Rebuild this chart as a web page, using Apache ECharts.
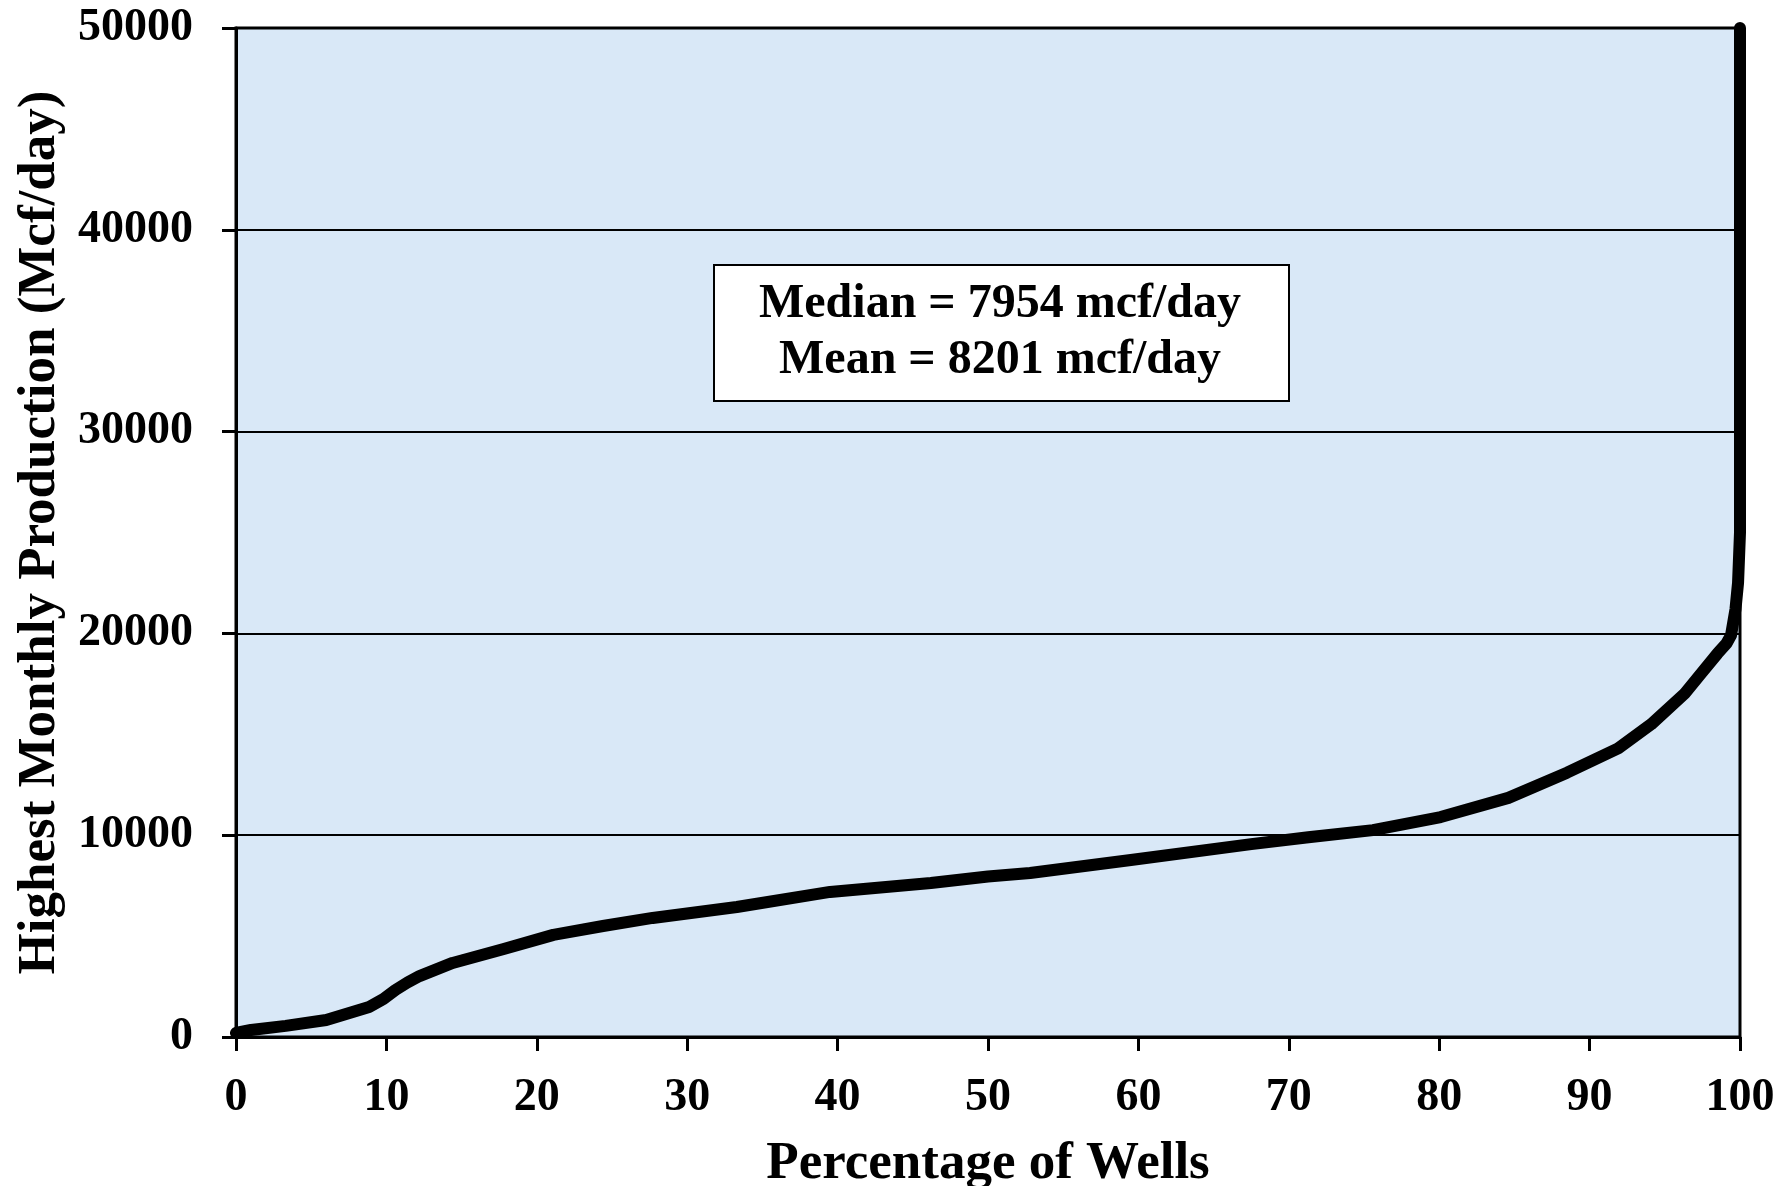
<!DOCTYPE html>
<html>
<head>
<meta charset="utf-8">
<title>Highest Monthly Production by Percentage of Wells</title>
<script src="https://cdn.jsdelivr.net/npm/echarts@6/dist/echarts.min.js"></script>
<style>
  html, body { margin: 0; padding: 0; background: #ffffff; }
  #chart { width: 1785px; height: 1186px; }
</style>
</head>
<body>
<div id="chart"></div>
<script>
// Cumulative distribution of peak monthly gas production across wells
const wellPercent = [0, 1, 3.3, 6, 8.85, 9.8, 10.6, 11.4, 12.2, 14.4, 17.8, 21.1, 24.4, 27.7, 33.3,
  39.5, 46.2, 50, 52.8, 59.5, 67.5, 71.3, 75.6, 80.1, 84.6, 88.5, 91.9, 94.1, 96.3,
  97.4, 98.5, 99.1, 99.4, 99.7, 99.87, 100, 100];
const peakProduction = [200, 350, 550, 840, 1490, 1880, 2330, 2700, 3020, 3670, 4360, 5060, 5500, 5900, 6440,
  7190, 7630, 7954, 8130, 8770, 9560, 9900, 10250, 10900, 11850, 13100, 14300, 15500, 17000,
  18000, 19000, 19500, 19900, 21200, 22500, 25000, 50000];

const xTicks = [0, 10, 20, 30, 40, 50, 60, 70, 80, 90, 100];
const yTicks = [0, 10000, 20000, 30000, 40000, 50000];

const medianValue = 7954;
const meanValue = 8201;

const xTitle = 'Percentage of Wells';
const yTitle = 'Highest Monthly Production (Mcf/day)';

const serif = '"Liberation Serif", "Times New Roman", "DejaVu Serif", serif';

const chart = echarts.init(document.getElementById('chart'), null, { renderer: 'canvas' });

const seriesData = wellPercent.map((p, i) => [p, peakProduction[i]]);

const option = {
  animation: false,
  backgroundColor: '#ffffff',
  grid: {
    left: 236, top: 28, right: 45, bottom: 149,
    containLabel: false,
    outerBoundsMode: 'none',
    show: true,
    backgroundColor: '#d9e8f7',
    borderColor: '#000000',
    borderWidth: 3
  },
  xAxis: {
    type: 'value',
    min: xTicks[0],
    max: xTicks[xTicks.length - 1],
    interval: xTicks[1] - xTicks[0],
    name: xTitle,
    nameLocation: 'middle',
    nameGap: 101,
    nameTextStyle: { fontFamily: serif, fontWeight: 'bold', fontSize: 53, color: '#000' },
    axisLine: { show: true, lineStyle: { color: '#000', width: 3 } },
    axisTick: { show: true, inside: false, length: 14, lineStyle: { color: '#000', width: 3 } },
    axisLabel: {
      margin: 38, fontFamily: serif, fontWeight: 'bold', fontSize: 46, color: '#000',
      formatter: v => String(v)
    },
    splitLine: { show: false }
  },
  yAxis: {
    type: 'value',
    min: yTicks[0],
    max: yTicks[yTicks.length - 1],
    interval: yTicks[1] - yTicks[0],
    name: yTitle,
    nameLocation: 'middle',
    nameGap: 158,
    nameRotate: 90,
    nameTextStyle: { fontFamily: serif, fontWeight: 'bold', fontSize: 53, color: '#000' },
    axisLine: { show: true, lineStyle: { color: '#000', width: 3 } },
    axisTick: { show: true, inside: false, length: 14, lineStyle: { color: '#000', width: 3 } },
    axisLabel: {
      margin: 43, fontFamily: serif, fontWeight: 'bold', fontSize: 46, color: '#000',
      formatter: v => String(v)
    },
    splitLine: { show: true, lineStyle: { color: '#000', width: 2 } }
  },
  series: [{
    type: 'line',
    data: seriesData,
    showSymbol: false,
    symbol: 'none',
    smooth: false,
    clip: true,
    lineStyle: { color: '#000000', width: 12, cap: 'round', join: 'round' }
  }],
  graphic: [
    {
      type: 'rect',
      left: 713, top: 264,
      shape: { width: 575, height: 136 },
      style: { fill: '#ffffff', stroke: '#000000', lineWidth: 2 },
      z: 10
    },
    {
      type: 'text',
      x: 1000, y: 333,
      style: {
        text: 'Median = ' + medianValue + ' mcf/day\nMean = ' + meanValue + ' mcf/day',
        font: 'bold 48px ' + serif,
        fill: '#000',
        align: 'center',
        verticalAlign: 'middle',
        lineHeight: 56
      },
      z: 11
    }
  ]
};

chart.setOption(option);
</script>
</body>
</html>
